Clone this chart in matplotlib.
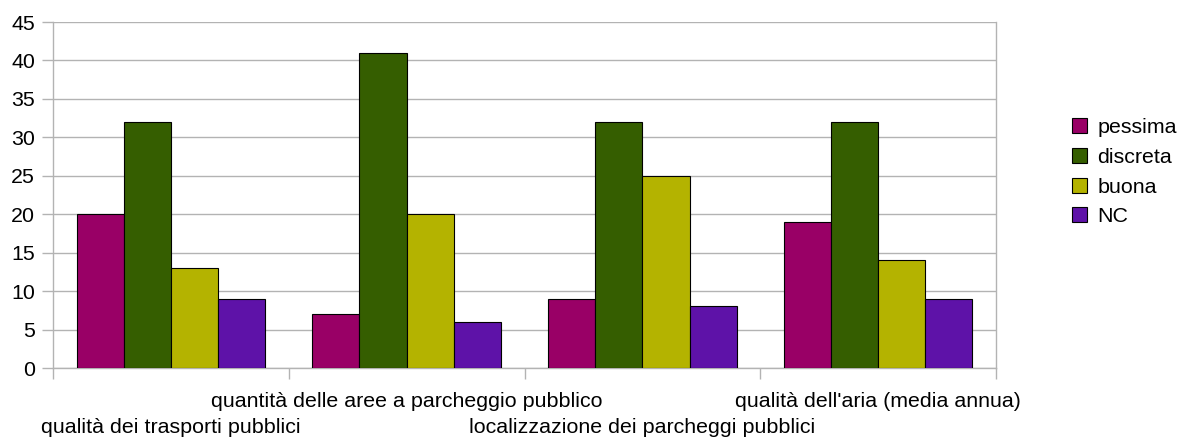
import numpy as np
import matplotlib
matplotlib.use("Agg")
import matplotlib.pyplot as plt

categories = [
    "qualità dei trasporti pubblici",
    "quantità delle aree a parcheggio pubblico",
    "localizzazione dei parcheggi pubblici",
    "qualità dell'aria (media annua)",
]
series_names = ["pessima", "discreta", "buona", "NC"]
pessima = [20, 7, 9, 19]
discreta = [32, 41, 32, 32]
buona = [13, 20, 25, 14]
nc = [9, 6, 8, 9]
colors = ["#990066", "#355e00", "#b4b300", "#5e12a8"]

plt.rcParams["font.family"] = ["Liberation Sans", "DejaVu Sans"]
fs = 15.4
plt.rcParams["font.size"] = fs

fig = plt.figure(figsize=(11.77, 4.38), dpi=100)
ax = fig.add_axes([53 / 1177, 70 / 438, 943 / 1177, 346 / 438])

x = np.arange(len(categories))
width = 0.2
for i, (name, vals) in enumerate(zip(series_names, [pessima, discreta, buona, nc])):
    ax.bar(x - 0.3 + i * width, vals, width, color=colors[i], edgecolor="black",
           linewidth=0.8, label=name, zorder=3)

ax.set_xlim(-0.5, len(categories) - 0.5)
ax.set_ylim(0, 45)
ax.set_yticks(range(0, 46, 5))
ax.yaxis.grid(True, color="#b3b3b3", linewidth=1, zorder=0)

# category boundaries as ticks, labels staggered below
ax.set_xticks(np.arange(-0.5, len(categories), 1))
ax.set_xticklabels([])
ax.tick_params(axis="x", length=8, color="#b3b3b3", width=1)
ax.tick_params(axis="y", length=8, color="#b3b3b3", width=1, pad=5, labelsize=fs)

for i, lab in enumerate(categories):
    ypos = -0.172 if i % 2 == 0 else -0.097
    ax.text(i, ypos, lab, transform=ax.get_xaxis_transform(), ha="center",
            va="center", fontsize=fs)

for s in ["left", "right", "bottom", "top"]:
    ax.spines[s].set_color("#b3b3b3")
    ax.spines[s].set_linewidth(1)
ax.spines["top"].set_visible(False)

ax.legend(loc="center left", bbox_to_anchor=(1.081, 0.566), frameon=False,
          handlelength=0.7, handleheight=0.7, handletextpad=0.47,
          labelspacing=0.5, fontsize=fs, borderpad=0, borderaxespad=0)

fig.savefig("out.png", dpi=100)
